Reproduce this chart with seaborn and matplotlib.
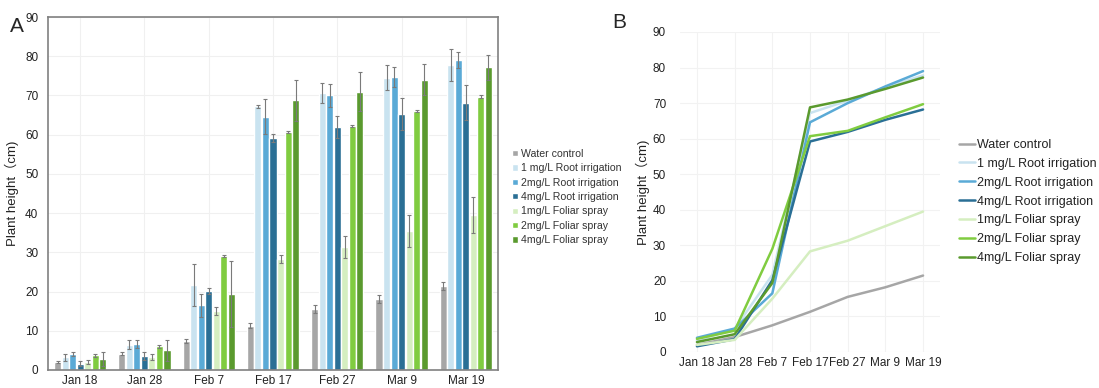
import matplotlib
matplotlib.use("Agg")
import matplotlib.pyplot as plt
import seaborn as sns
import pandas as pd

# ------------------------------------------------------------------
# Data
# ------------------------------------------------------------------
dates = ["Jan 18", "Jan 28", "Feb 7", "Feb 17", "Feb 27", "Mar 9", "Mar 19"]
treatments = ["Water control", "1 mg/L Root irrigation", "2mg/L Root irrigation",
              "4mg/L Root irrigation", "1mg/L Foliar spray", "2mg/L Foliar spray",
              "4mg/L Foliar spray"]

water = [2.0, 4.2, 7.5, 11.3, 15.5, 18.2, 21.5]
root1 = [3.2, 6.5, 21.7, 67.2, 70.7, 74.5, 77.8]
root2 = [4.0, 6.6, 16.5, 64.6, 70.0, 74.7, 79.0]
root4 = [1.6, 3.6, 20.2, 59.2, 61.9, 65.3, 68.2]
foliar1 = [2.0, 3.4, 15.0, 28.3, 31.3, 35.4, 39.5]
foliar2 = [3.7, 6.0, 29.0, 60.7, 62.2, 66.0, 69.7]
foliar4 = [2.8, 5.0, 19.4, 68.8, 71.0, 74.0, 77.2]

err_water = [0.3, 0.4, 0.5, 0.7, 1.0, 1.0, 1.0]
err_root1 = [1.0, 1.2, 5.3, 0.3, 2.5, 3.2, 4.0]
err_root2 = [0.5, 1.0, 3.0, 4.5, 3.0, 2.5, 2.0]
err_root4 = [0.6, 1.0, 0.8, 1.0, 2.8, 4.0, 4.5]
err_foliar1 = [0.5, 0.8, 1.0, 1.0, 2.8, 4.0, 4.5]
err_foliar2 = [0.3, 0.3, 0.3, 0.3, 0.3, 0.3, 0.3]
err_foliar4 = [1.8, 2.6, 8.5, 5.2, 5.0, 4.0, 3.2]

colors = ["#a6a6a6", "#c9e3f0", "#5aaad6", "#2a6f95", "#d5eec0", "#80cc40", "#5a9a2e"]

means = [water, root1, root2, root4, foliar1, foliar2, foliar4]
errs = [err_water, err_root1, err_root2, err_root4, err_foliar1, err_foliar2, err_foliar4]

rows = []
for t, m, e in zip(treatments, means, errs):
    for d, v, s in zip(dates, m, e):
        rows.append({"Date": d, "Treatment": t, "Height": v, "Err": s})
df = pd.DataFrame(rows)

# ------------------------------------------------------------------
# Figure
# ------------------------------------------------------------------
sns.set_style("white")
plt.rcParams["font.family"] = ["Liberation Sans", "Noto Sans CJK SC", "DejaVu Sans"]
palette = dict(zip(treatments, colors))

fig = plt.figure(figsize=(10.99, 3.88), dpi=100)
axA = fig.add_axes([48 / 1099, 1 - 370 / 388, 450 / 1099, 353 / 388])
axB = fig.add_axes([680 / 1099, 1 - 352 / 388, 260 / 1099, 320 / 388])

# ---- Panel A: grouped bars with error bars ----
sns.barplot(data=df, x="Date", y="Height", hue="Treatment", order=dates,
            hue_order=treatments, palette=palette, width=0.82, gap=0.06,
            saturation=1, errorbar=None, ax=axA, legend=True)
bars = [p for p in axA.patches if p.get_height() > 0 or p.get_width() > 0][:len(df)]
for p, (_, r) in zip(bars, df.iterrows()):
    axA.errorbar(p.get_x() + p.get_width() / 2, p.get_height(), yerr=r["Err"],
                 fmt="none", ecolor="#7a7a7a", elinewidth=0.8, capsize=1.5, capthick=0.8)
axA.set_ylim(0, 90)
axA.set_xlim(-0.5, 6.5)
axA.set_yticks(range(0, 91, 10))
axA.set_xlabel("")
axA.set_ylabel("Plant height（cm)", fontsize=9.5, color="#222222")
axA.tick_params(labelsize=8.5, colors="#222222", length=0)
axA.tick_params(axis="y", pad=7)
axA.grid(True, color="#f0f0f0", linewidth=0.8)
axA.set_axisbelow(True)
for s in axA.spines.values():
    s.set_color("#808080")
    s.set_linewidth(1.2)
legA = axA.legend(loc="center left", bbox_to_anchor=(1.01, 0.49), frameon=False,
                  fontsize=7.6, handlelength=0.55, handleheight=0.55,
                  handletextpad=0.3, labelspacing=0.42)
for t in legA.get_texts():
    t.set_color("#333333")

# ---- Panel B: lines ----
sns.lineplot(data=df, x="Date", y="Height", hue="Treatment", hue_order=treatments,
             palette=palette, linewidth=1.8, ax=axB, sort=False)
axB.set_ylim(0, 90)
axB.set_xlim(-0.45, 6.45)
axB.set_yticks(range(0, 91, 10))
axB.set_xlabel("")
axB.set_ylabel("Plant height（cm)", fontsize=9.5, color="#222222", labelpad=2)
axB.tick_params(labelsize=8.5, colors="#222222", length=0)
axB.tick_params(axis="y", pad=10)
axB.grid(True, color="#f2f2f2", linewidth=0.8)
for s in axB.spines.values():
    s.set_visible(False)
legB = axB.legend(loc="center left", bbox_to_anchor=(1.03, 0.47), frameon=False,
                  fontsize=9, handlelength=1.3, handletextpad=0.1, labelspacing=0.55)
for t in legB.get_texts():
    t.set_color("#222222")

fig.text(10 / 1099, 1 - 26 / 388, "A", fontsize=15, va="center", ha="left")
fig.text(612 / 1099, 1 - 22 / 388, "B", fontsize=15, va="center", ha="left")

fig.savefig("out.png", dpi=100)
